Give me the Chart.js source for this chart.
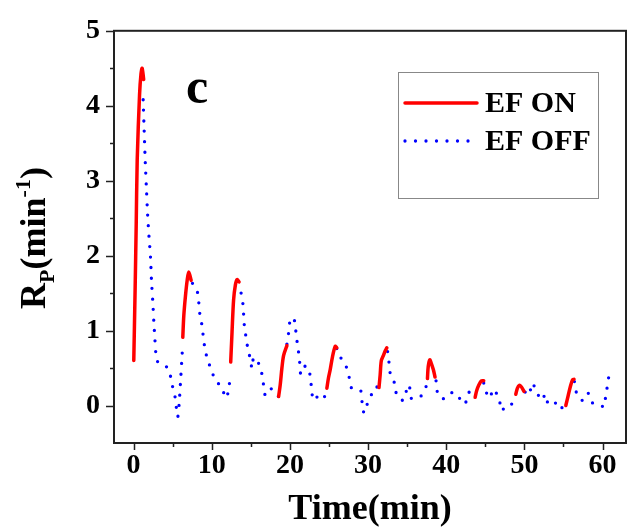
<!DOCTYPE html>
<html>
<head>
<meta charset="utf-8">
<script src="https://cdn.jsdelivr.net/npm/chart.js@4.4.1/dist/chart.umd.min.js"></script>
<style>
html, body { margin: 0; padding: 0; background: #fff; }
#wrap { width: 628px; height: 531px; }
</style>
</head>
<body>
<div id="wrap"><canvas id="rpChart" width="628" height="531"></canvas></div>
<script>
// EF ON runs, a null splits one run from the next
const onTime = [
    0.03, 0.2, 0.34, 0.47, 0.77, 0.95, 1.1, 1.3, null,
    6.3, 6.43, 6.64, 6.86, 7.06, 7.37, null,
    12.43, 12.6, 12.8, 13.03, 13.24, 13.5, null,
    18.56, 18.77, 18.98, 19.2, 19.62, null,
    24.73, 24.94, 25.16, 25.45, 25.8, 26.0, null,
    31.4, 31.55, 31.7, 31.97, 32.2, 32.4, null,
    37.6, 37.7, 37.9, 38.1, 38.35, 38.57, null,
    43.7, 43.9, 44.2, 44.5, 44.8, null,
    48.9, 49.1, 49.35, 49.6, 49.95, null,
    55.3, 55.6, 55.9, 56.15, 56.35
];
const onRate = [
    0.6, 1.54, 2.41, 3.28, 4.15, 4.42, 4.5, 4.35, null,
    0.91, 1.2, 1.46, 1.67, 1.78, 1.67, null,
    0.58, 0.98, 1.41, 1.61, 1.68, 1.65, null,
    0.12, 0.28, 0.5, 0.67, 0.8, null,
    0.23, 0.37, 0.48, 0.65, 0.79, 0.77, null,
    0.24, 0.41, 0.6, 0.67, 0.73, 0.77, null,
    0.36, 0.52, 0.61, 0.56, 0.48, 0.38, null,
    0.11, 0.2, 0.28, 0.33, 0.33, null,
    0.15, 0.23, 0.27, 0.25, 0.19, null,
    0.0, 0.13, 0.26, 0.34, 0.35
];

// EF OFF runs
const offTime = [
    1.23, 1.35, 1.5, 1.66, 1.8, 1.98, 2.17, 2.3, 2.47, 2.6, 2.73, 2.85, 3.0, 3.66, 4.3, 4.73, 5.0, 5.32, 5.49, 5.66, 5.83, 6.0, 6.17, 6.26, null,
    7.54, 8.13, 8.34, 8.47, 8.72, 9.1, 9.4, 9.86, 10.4, 11.3, 11.85, 12.2, 12.35, null,
    13.76, 14.0, 14.09, 14.2, 14.43, 14.65, 14.9, 15.16, 15.37, 15.92, 16.4, 16.64, 16.86, 17.5, 18.0, 18.56, null,
    19.62, 19.88, 20.05, 20.48, 20.74, 20.9, 21.1, 21.25, 21.4, 21.84, 22.4, 22.6, 22.8, 23.0, 23.7, 24.3, 24.6, null,
    26.0, 26.5, 27.2, 27.6, 27.9, 28.6, 29.1, 29.25, 29.5, 29.9, 30.5, 30.95, 31.3, null,
    32.5, 32.7, 32.86, 33.46, 33.67, 34.4, 34.8, 34.98, 35.3, 35.5, 36.1, 36.8, 37.5, null,
    38.7, 38.9, 39.55, 40.6, 41.45, 42.05, 42.7, 43.0, 43.6, null,
    44.8, 45.15, 45.6, 46.0, 46.75, 47.1, 47.7, 48.55, null,
    50.1, 50.6, 50.99, 51.55, 52.2, 52.7, 53.1, 53.9, 54.5, 54.95, null,
    56.4, 56.7, 57.4, 58.1, 58.65, 59.7, 60.2, 60.4, 60.65, 60.85
];
const offRate = [
    4.08, 3.7, 3.25, 2.87, 2.55, 2.25, 1.98, 1.66, 1.37, 1.11, 0.89, 0.7, 0.6, 0.53, 0.51, 0.39, 0.25, 0.11, -0.04, -0.15, 0.02, 0.3, 0.6, 0.76, null,
    1.63, 1.53, 1.38, 1.23, 1.09, 0.78, 0.64, 0.5, 0.36, 0.23, 0.1, 0.24, 0.39, null,
    1.5, 1.35, 1.2, 1.04, 0.89, 0.74, 0.64, 0.5, 0.64, 0.58, 0.43, 0.27, 0.14, 0.23, 0.16, 0.12, null,
    0.82, 1.0, 1.14, 1.17, 1.01, 0.87, 0.72, 0.58, 0.42, 0.52, 0.51, 0.37, 0.22, 0.07, 0.13, 0.09, 0.2, null,
    0.76, 0.64, 0.52, 0.37, 0.23, 0.2, 0.19, 0.03, -0.1, 0.02, 0.16, 0.25, 0.24, null,
    0.72, 0.56, 0.42, 0.28, 0.14, 0.07, 0.12, 0.27, 0.25, 0.1, 0.09, 0.13, 0.27, null,
    0.33, 0.17, 0.09, 0.17, 0.15, 0.02, 0.07, 0.19, 0.09, null,
    0.3, 0.17, 0.1, 0.22, 0.09, -0.07, 0.01, 0.02, null,
    0.18, 0.14, 0.3, 0.19, 0.07, 0.15, 0.01, 0.03, 0.05, -0.08, null,
    0.32, 0.16, 0.07, 0.17, 0.04, 0.01, -0.02, 0.13, 0.28, 0.43
];

const seriesNames = ['EF ON', 'EF OFF'];
const xTickLabels = [0, 10, 20, 30, 40, 50, 60];
const yTickLabels = [0, 1, 2, 3, 4, 5];

const serif = "'Liberation Serif', 'Times New Roman', serif";

function toPoints(xs, ys) {
    return xs.map((x, i) => ({ x: x, y: ys[i] }));
}

// frame, minor/major ticks, y title, panel letter and legend box
const extras = {
    id: 'extras',
    afterDatasetsDraw(chart) {
        const c = chart.ctx;
        const a = chart.chartArea;
        const xs = chart.scales.x;
        const ys = chart.scales.y;
        c.save();
        c.strokeStyle = '#222';
        c.lineWidth = 2;
        c.strokeRect(a.left, a.top, a.right - a.left, a.bottom - a.top);

        c.lineWidth = 1.5;
        c.beginPath();
        for (let v = 0; v <= 60; v += 5) {
            const px = Math.round(xs.getPixelForValue(v)) + 0.5;
            const len = xTickLabels.includes(v) ? 7 : 4;
            c.moveTo(px, a.bottom);
            c.lineTo(px, a.bottom + len);
        }
        for (let v = 0; v <= 5; v += 0.5) {
            const py = Math.round(ys.getPixelForValue(v)) + 0.5;
            const len = yTickLabels.includes(v) ? 8 : 4;
            c.moveTo(a.left, py);
            c.lineTo(a.left - len, py);
        }
        c.stroke();

        // y title: R_P(min^-1)
        const big = 'bold 36px ' + serif;
        const small = 'bold 22px ' + serif;
        const parts = [
            { t: 'R', f: big, dy: 0 },
            { t: 'P', f: small, dy: 9 },
            { t: '(min', f: big, dy: 0 },
            { t: '-1', f: small, dy: -15 },
            { t: ')', f: big, dy: 0 }
        ];
        let total = 0;
        parts.forEach(p => { c.font = p.f; p.w = c.measureText(p.t).width; total += p.w; });
        c.translate(45, 238);
        c.rotate(-Math.PI / 2);
        c.fillStyle = '#000';
        c.textBaseline = 'alphabetic';
        let cx = -total / 2;
        parts.forEach(p => {
            c.font = p.f;
            c.fillText(p.t, cx, p.dy);
            cx += p.w;
        });
        c.setTransform(1, 0, 0, 1, 0, 0);

        // panel letter
        c.font = 'bold 50px ' + serif;
        c.fillText('c', 186, 103);

        // legend
        c.strokeStyle = '#888';
        c.lineWidth = 1;
        c.strokeRect(398.5, 72.5, 200, 126);
        const rows = [103, 141];
        chart.data.datasets.forEach((ds, i) => {
            c.save();
            c.strokeStyle = ds.borderColor;
            c.lineWidth = ds.borderWidth;
            c.lineCap = ds.borderCapStyle || 'butt';
            c.setLineDash(ds.borderDash || []);
            c.beginPath();
            c.moveTo(405, rows[i]);
            c.lineTo(477, rows[i]);
            c.stroke();
            c.restore();
            c.fillStyle = '#000';
            c.font = 'bold 30px ' + serif;
            c.textBaseline = 'middle';
            c.fillText(ds.label, 485, rows[i] + 1);
        });
        c.restore();
    }
};

const ctx = document.getElementById('rpChart').getContext('2d');
const rpChart = new Chart(ctx, {
    type: 'line',
    data: {
        datasets: [{
            label: seriesNames[0],
            data: toPoints(onTime, onRate),
            borderColor: '#ff0000',
            borderWidth: 3.5,
            borderCapStyle: 'round',
            pointRadius: 0,
            tension: 0.3,
            spanGaps: false
        }, {
            label: seriesNames[1],
            data: toPoints(offTime, offRate),
            borderColor: '#0000ff',
            borderWidth: 3.3,
            borderDash: [0, 10.5],
            borderCapStyle: 'round',
            pointRadius: 0,
            tension: 0.3,
            spanGaps: false
        }]
    },
    options: {
        responsive: false,
        animation: false,
        devicePixelRatio: 1,
        layout: { padding: { top: 22, right: 2, left: 0, bottom: 0 } },
        plugins: { legend: { display: false }, tooltip: { enabled: false } },
        scales: {
            x: {
                type: 'linear',
                min: -2.5,
                max: 63,
                afterFit: s => { s.height = 88; },
                grid: { display: false, drawTicks: false },
                border: { display: false },
                ticks: {
                    stepSize: 5,
                    includeBounds: false,
                    autoSkip: false,
                    maxRotation: 0,
                    padding: 6,
                    color: '#000',
                    font: { family: serif, size: 28, weight: 'bold' },
                    callback: v => xTickLabels.includes(v) ? String(v) : ''
                },
                title: {
                    display: true,
                    text: 'Time(min)',
                    color: '#000',
                    font: { family: serif, size: 36, weight: 'bold' },
                    padding: { top: 0, bottom: 0 }
                }
            },
            y: {
                min: -0.5,
                max: 5,
                afterFit: s => { s.width = 114; },
                grid: { display: false, drawTicks: false },
                border: { display: false },
                ticks: {
                    stepSize: 0.5,
                    includeBounds: false,
                    autoSkip: false,
                    padding: 14,
                    color: '#000',
                    font: { family: serif, size: 28, weight: 'bold' },
                    callback: v => yTickLabels.includes(v) ? String(v) : ''
                }
            }
        }
    },
    plugins: [extras]
});
</script>
</body>
</html>
